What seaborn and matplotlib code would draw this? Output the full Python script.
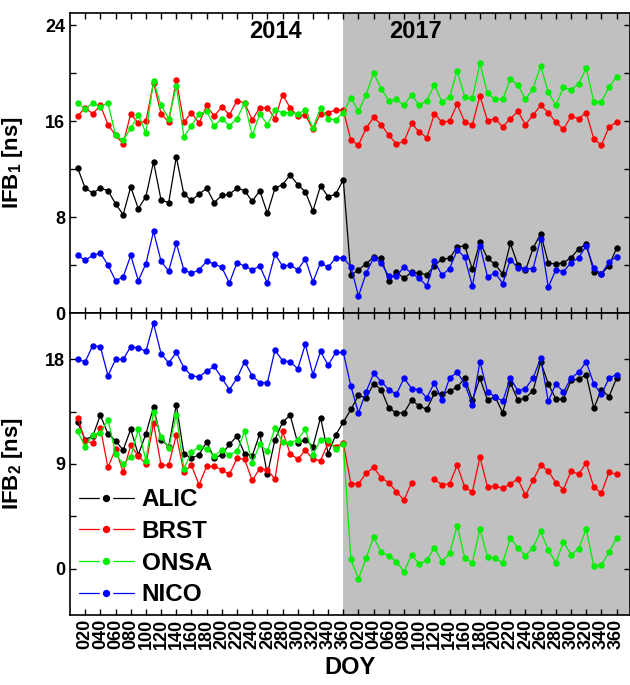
import numpy as np
import pandas as pd
import matplotlib
matplotlib.use('Agg')
import matplotlib.pyplot as plt
from matplotlib.lines import Line2D
from matplotlib.ticker import MultipleLocator, FixedLocator
import seaborn as sns

# day of year of each estimate, one every 10 days in both years
doy = np.arange(10, 370, 10)
year_offset = 360   # 2017 is drawn to the right of 2014

stations = ['ALIC', 'BRST', 'ONSA', 'NICO']
colors = {'ALIC': 'black', 'BRST': '#ff0000', 'ONSA': '#00ee00', 'NICO': '#0000ff'}

# IFB1 [ns]
alic1_2014 = [12.1, 10.4, 10.0, 10.4, 10.2, 9.1, 8.2, 10.5, 8.7, 9.7, 12.6, 9.4, 9.2, 13.0, 9.9, 9.4, 9.9, 10.4,
              9.2, 9.8, 9.9, 10.4, 10.2, 9.3, 10.2, 8.3, 10.4, 10.7, 11.5, 10.7, 10.1, 8.5, 10.6, 9.7, 9.9, 11.1]
alic1_2017 = [3.15, 3.6, 4.1, 4.65, 4.55, 2.7, 3.4, 2.9, 3.4, 3.3, 3.2, 3.95, 4.5, 4.55, 5.5, 5.6, 3.65, 5.9,
              4.55, 4.05, 3.25, 5.8, 4.0, 3.55, 5.4, 6.6, 4.2, 4.05, 4.2, 4.6, 5.35, 5.75, 3.45, 3.25, 3.95, 5.4]
brst1_2014 = [16.4, 17.1, 16.6, 17.3, 15.7, 14.8, 14.1, 16.6, 15.8, 16.0, 19.2, 16.6, 15.9, 19.4, 15.9, 16.7, 15.8, 17.3,
              16.4, 17.2, 16.5, 17.7, 17.5, 16.1, 17.1, 17.1, 16.2, 18.2, 17.1, 16.4, 16.5, 15.3, 16.6, 16.7, 16.9, 16.9]
brst1_2017 = [14.4, 14.0, 15.4, 16.3, 15.7, 14.8, 14.1, 14.3, 15.8, 15.1, 14.6, 16.6, 15.9, 16.0, 17.4, 15.9, 15.7, 18.1,
              16.0, 16.2, 15.5, 16.2, 16.8, 15.7, 16.5, 17.3, 16.7, 15.9, 15.3, 16.4, 16.2, 16.7, 14.5, 14.0, 15.5, 15.9]
onsa1_2014 = [17.5, 17.0, 17.5, 17.2, 17.5, 14.8, 14.4, 15.4, 16.5, 15.0, 19.3, 17.3, 16.2, 18.9, 14.7, 15.6, 16.6, 16.8,
              15.6, 16.2, 15.6, 16.2, 17.5, 14.8, 16.6, 15.7, 16.9, 16.7, 16.7, 16.6, 16.9, 15.4, 17.1, 16.2, 16.1, 16.7]
onsa1_2017 = [17.95, 16.8, 18.2, 20.0, 18.7, 17.7, 17.8, 17.3, 18.2, 17.3, 17.7, 19.0, 17.6, 18.0, 20.2, 18.0, 17.9, 20.8,
              18.3, 17.8, 17.8, 19.5, 19.0, 17.8, 18.7, 20.6, 18.4, 17.3, 18.8, 18.6, 19.1, 20.4, 17.6, 17.6, 18.8, 19.7]
nico1_2014 = [4.8, 4.4, 4.8, 5.0, 4.0, 2.7, 3.0, 4.8, 2.7, 4.1, 6.8, 4.3, 3.5, 5.8, 3.6, 3.3, 3.6, 4.3,
              4.1, 3.8, 2.5, 4.2, 3.9, 3.6, 3.9, 2.5, 4.9, 3.9, 4.0, 3.6, 4.5, 2.6, 4.2, 3.8, 4.6, 4.6]
nico1_2017 = [3.85, 1.4, 3.3, 4.6, 4.15, 3.05, 3.05, 3.85, 3.3, 2.9, 2.25, 4.3, 3.15, 3.7, 5.25, 4.65, 2.25, 5.6,
              3.0, 3.35, 2.45, 4.45, 3.75, 3.7, 3.7, 6.2, 2.15, 3.6, 3.45, 4.2, 4.6, 5.6, 3.75, 3.25, 4.25, 4.7]

# IFB2 [ns]
alic2_2014 = [12.6, 11.1, 11.4, 13.2, 11.6, 11.0, 10.2, 12.0, 9.8, 11.6, 13.9, 11.1, 10.5, 14.1, 9.9, 9.5, 9.8, 10.9,
              9.5, 9.8, 10.7, 11.4, 9.9, 9.7, 11.6, 8.1, 11.1, 12.6, 13.2, 10.8, 11.1, 10.5, 13.0, 9.9, 11.5, 12.6]
alic2_2017 = [13.7, 14.9, 14.7, 15.9, 15.4, 13.8, 13.4, 13.4, 14.5, 14.0, 13.7, 15.1, 15.0, 15.3, 15.6, 16.4, 14.5, 16.4,
              14.5, 14.8, 13.4, 16.0, 14.5, 14.7, 15.3, 17.8, 15.9, 14.6, 14.6, 16.2, 16.3, 16.7, 13.8, 15.4, 14.8, 16.4]
brst2_2014 = [13.0, 11.0, 10.8, 12.1, 8.7, 10.3, 8.3, 10.6, 9.7, 9.0, 12.5, 8.9, 8.9, 11.5, 8.3, 8.9, 7.2, 8.8,
              8.8, 8.5, 8.1, 9.5, 9.4, 7.6, 8.6, 8.5, 7.7, 11.8, 9.9, 9.4, 10.2, 9.4, 9.3, 10.8, 10.5, 10.8]
brst2_2017 = [7.3, 7.3, 8.2, 8.7, 7.8, 7.4, 6.6, 5.9, 7.4, np.nan, np.nan, 7.7, 7.2, 7.3, 8.9, 7.0, 6.6, 9.6,
              7.0, 7.1, 6.9, 7.3, 7.7, 6.3, 7.6, 8.9, 8.4, 7.4, 6.8, 8.4, 8.1, 9.1, 7.0, 6.5, 8.3, 8.1]
onsa2_2014 = [11.8, 10.5, 11.5, 11.7, 12.8, 9.9, 9.0, 9.6, 12.0, 9.3, 13.5, 11.3, 10.4, 13.2, 8.6, 10.0, 10.5, 10.3,
              9.7, 10.2, 9.8, 10.1, 11.8, 9.1, 10.7, 10.1, 12.1, 10.9, 10.8, 11.1, 12.0, 9.8, 11.1, 11.1, 10.3, 10.7]
onsa2_2017 = [0.8, -0.9, 0.9, 2.7, 1.4, 1.1, 0.6, -0.3, 1.2, 0.4, 0.7, 1.8, 0.6, 1.3, 3.7, 0.9, 0.5, 3.4,
              1.0, 0.9, 0.5, 2.6, 1.8, 1.1, 1.8, 3.2, 1.6, 0.5, 2.3, 1.2, 1.7, 3.4, 0.2, 0.3, 1.4, 2.6]
nico2_2014 = [18.0, 17.8, 19.2, 19.1, 16.6, 18.0, 18.0, 19.1, 19.0, 18.7, 21.1, 18.5, 17.7, 18.6, 17.3, 16.6, 16.5, 17.0,
              17.4, 16.4, 15.4, 16.4, 17.8, 16.6, 16.0, 16.0, 18.8, 17.9, 17.8, 17.2, 19.3, 16.7, 18.7, 17.5, 18.6, 18.6]
nico2_2017 = [15.7, 13.4, 15.2, 16.8, 16.1, 15.4, 15.0, 16.4, 15.5, 15.4, 14.7, 16.0, 14.5, 16.4, 16.9, 15.9, 14.1, 17.8,
              15.2, 14.8, 14.4, 16.4, 15.3, 15.5, 16.4, 18.1, 14.4, 15.9, 15.2, 16.4, 16.9, 17.8, 15.9, 15.0, 16.4, 16.7]

ifb1 = {'ALIC': (alic1_2014, alic1_2017), 'BRST': (brst1_2014, brst1_2017),
        'ONSA': (onsa1_2014, onsa1_2017), 'NICO': (nico1_2014, nico1_2017)}
ifb2 = {'ALIC': (alic2_2014, alic2_2017), 'BRST': (brst2_2014, brst2_2017),
        'ONSA': (onsa2_2014, onsa2_2017), 'NICO': (nico2_2014, nico2_2017)}

tick_pos = list(range(20, 361, 20)) + list(range(20 + year_offset, 361 + year_offset, 20))
tick_lab = ['%03d' % d for d in range(20, 361, 20)] * 2


def to_long(series):
    rows = []
    for st in stations:
        v2014, v2017 = series[st]
        x = np.concatenate([doy, doy + year_offset])
        v = np.array(v2014 + v2017, dtype=float)
        # break the line where values are missing
        seg = np.cumsum(np.isnan(v))
        d = pd.DataFrame({'x': x, 'value': v, 'station': st, 'seg': [st + str(s) for s in seg]})
        rows.append(d.dropna())
    return pd.concat(rows, ignore_index=True)


sns.set_theme(style='ticks')
plt.rcParams['font.family'] = ['Liberation Sans', 'DejaVu Sans']
plt.rcParams['font.weight'] = 'bold'
plt.rcParams['mathtext.fontset'] = 'custom'
plt.rcParams['mathtext.rm'] = 'Liberation Sans:bold'
plt.rcParams['mathtext.bf'] = 'Liberation Sans:bold'
for key in ['text.color', 'axes.labelcolor', 'xtick.color', 'ytick.color', 'axes.edgecolor']:
    plt.rcParams[key] = 'black'

W, H = 630, 685
fig = plt.figure(figsize=(W / 100, H / 100), dpi=100)
ax1 = fig.add_axes([70 / W, 1 - 313 / H, 559.5 / W, 300 / H])
ax2 = fig.add_axes([70 / W, 1 - 615 / H, 559.5 / W, 302 / H], sharex=ax1)

for ax, series in [(ax1, ifb1), (ax2, ifb2)]:
    ax.axvspan(360, 800, color='#c0c0c0', zorder=0, lw=0)
    sns.lineplot(data=to_long(series), x='x', y='value', hue='station', hue_order=stations,
                 units='seg', estimator=None, sort=False, palette=colors, marker='o',
                 markersize=4.6, markeredgewidth=0, linewidth=0.9, legend=False, ax=ax)
    ax.set_xlabel('')
    for sp in ax.spines.values():
        sp.set_visible(True)
        sp.set_color('black')
        sp.set_linewidth(1.2)
    ax.tick_params(which='both', direction='in', top=True, right=True, length=4, width=1,
                   color='black', labelcolor='black', labelsize=13)
    ax.set_facecolor('white')

ax1.set_xlim(0, 737)
ax1.set_ylim(0, 25)
ax1.yaxis.set_major_locator(FixedLocator([0, 8, 16, 24]))
ax1.yaxis.set_minor_locator(MultipleLocator(4))
ax2.set_ylim(-4, 22)
ax2.yaxis.set_major_locator(FixedLocator([0, 9, 18]))
ax2.yaxis.set_minor_locator(MultipleLocator(4.5))

ax2.xaxis.set_major_locator(FixedLocator(tick_pos))
ax2.set_xticklabels(tick_lab, rotation=90, fontsize=13, fontweight='bold')
ax2.tick_params(axis='x', pad=3)
ax1.tick_params(axis='x', labelbottom=False)

ax1.set_ylabel('IFB$_\\mathbf{1}$ [ns]', fontsize=16, fontweight='bold')
ax2.set_ylabel('IFB$_\\mathbf{2}$ [ns]', fontsize=16, fontweight='bold')
ax1.yaxis.set_label_coords(-0.08, 0.5)
ax2.yaxis.set_label_coords(-0.08, 0.5)
ax2.set_xlabel('DOY', fontsize=17, fontweight='bold', labelpad=5)

ax1.text(270, 23.5, '2014', ha='center', va='center', fontsize=17, fontweight='bold')
ax1.text(455, 23.5, '2017', ha='center', va='center', fontsize=17, fontweight='bold')

# legend handles: white ring around the marker gives the gap in the line
handles = [Line2D([], [], color=colors[st], lw=0.9, marker='o', markersize=7.5,
                  markerfacecolor=colors[st], markeredgecolor='white', markeredgewidth=2.2)
           for st in stations]
ax2.legend(handles, stations, loc='lower left', bbox_to_anchor=(0.0, 0.0), frameon=False,
           prop={'size': 17.5, 'weight': 'bold'}, handlelength=2.3, handletextpad=0.3,
           labelspacing=0.36, borderpad=0.2, borderaxespad=0.15)

fig.savefig('out.png', dpi=100)
